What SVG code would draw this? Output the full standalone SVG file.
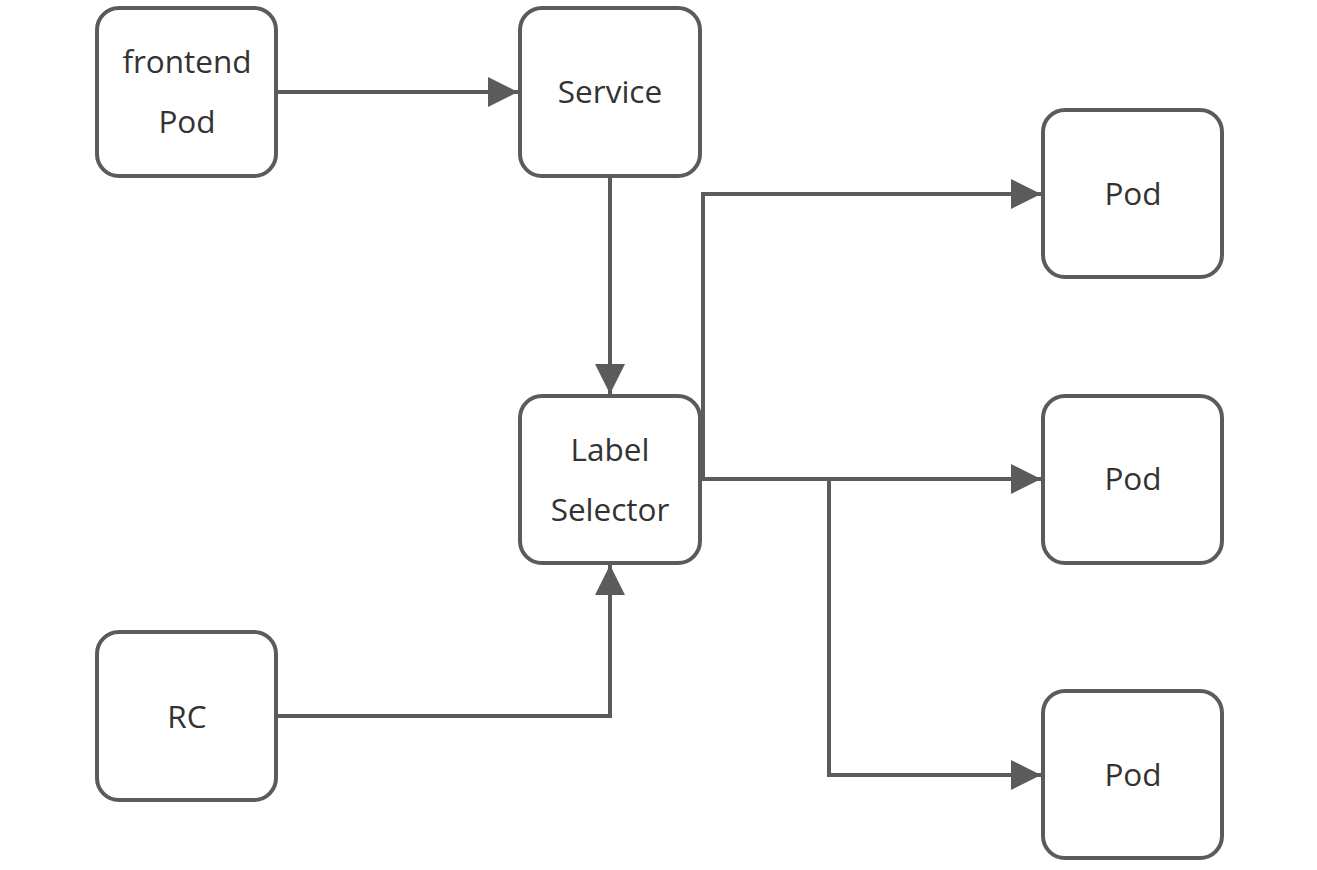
<svg xmlns="http://www.w3.org/2000/svg" width="1317" height="870" viewBox="0 0 1317 870">
<style>
.box{fill:#fff;stroke:#5b5b5b;stroke-width:4}
.lbl{font-family:"Open Sans","Noto Sans","DejaVu Sans",sans-serif;font-size:31.5px;fill:#333;text-anchor:middle;dominant-baseline:central}
.conn{fill:none;stroke:#5b5b5b;stroke-width:4}
</style>
<defs>
<marker id="arr" markerUnits="userSpaceOnUse" markerWidth="30" markerHeight="30" viewBox="0 0 28 28" refX="28" refY="14" orient="auto">
<path d="M0,0 L28,14 L0,28 Z" fill="#5b5b5b"/>
</marker>
</defs>
<rect width="1317" height="870" fill="#fff"/>
<g id="connectors">
<path class="conn" d="M276,92 H518" marker-end="url(#arr)"/>
<path class="conn" d="M610,176 V394" marker-end="url(#arr)"/>
<path class="conn" d="M276,716 H610 V565" marker-end="url(#arr)"/>
<path class="conn" d="M700,479 H703 V194 H1041" marker-end="url(#arr)"/>
<path class="conn" d="M700,479 H1041" marker-end="url(#arr)"/>
<path class="conn" d="M829,479 V775 H1041" marker-end="url(#arr)"/>
</g>
<g id="frontend-pod">
<rect class="box" x="97" y="8" width="179" height="168" rx="22"/>
<text class="lbl" x="187" y="60">frontend</text>
<text class="lbl" x="187" y="120">Pod</text>
</g>
<g id="service">
<rect class="box" x="520" y="8" width="180" height="168" rx="22"/>
<text class="lbl" x="610" y="90">Service</text>
</g>
<g id="label-selector">
<rect class="box" x="520" y="396" width="180" height="167" rx="22"/>
<text class="lbl" x="610" y="448">Label</text>
<text class="lbl" x="610" y="508">Selector</text>
</g>
<g id="rc">
<rect class="box" x="97" y="632" width="179" height="168" rx="22"/>
<text class="lbl" x="187" y="715">RC</text>
</g>
<g id="pod1">
<rect class="box" x="1043" y="110" width="179" height="167" rx="22"/>
<text class="lbl" x="1133" y="192">Pod</text>
</g>
<g id="pod2">
<rect class="box" x="1043" y="396" width="179" height="167" rx="22"/>
<text class="lbl" x="1133" y="477">Pod</text>
</g>
<g id="pod3">
<rect class="box" x="1043" y="691" width="179" height="167" rx="22"/>
<text class="lbl" x="1133" y="773">Pod</text>
</g>
</svg>
